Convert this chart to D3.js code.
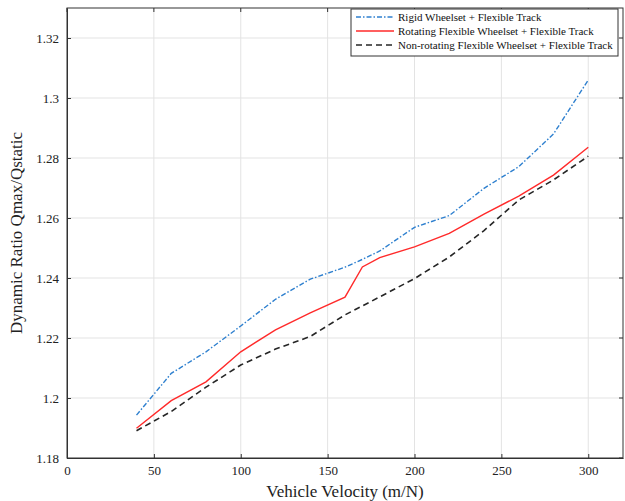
<!DOCTYPE html>
<html>
<head>
<meta charset="utf-8">
<script src="https://cdn.jsdelivr.net/npm/d3@7"></script>
<style>
  body { margin: 0; background: #fff; }
  svg { display: block; }
</style>
</head>
<body>
<div id="chart"></div>
<script>
// velocities sampled in the figure
const velocity = [40, 60, 80, 100, 120, 140, 160, 170, 180, 200, 220, 240, 260, 280, 300];

const rigidTrack = [1.1943, 1.2082, 1.2154, 1.2240, 1.2329, 1.2396, 1.2436, 1.2462, 1.2490, 1.2569, 1.2608, 1.2699, 1.2771, 1.2880, 1.3060];
const rotatingTrack = [1.1899, 1.1991, 1.2054, 1.2154, 1.2227, 1.2284, 1.2336, 1.2437, 1.2468, 1.2504, 1.2549, 1.2613, 1.2673, 1.2743, 1.2836];
const nonRotatingTrack = [1.1891, 1.1955, 1.2036, 1.2110, 1.2163, 1.2205, 1.2277, 1.2307, 1.2337, 1.2398, 1.2470, 1.2558, 1.2660, 1.2727, 1.2806];

const xTicks = [0, 50, 100, 150, 200, 250, 300];
const yTicks = [1.18, 1.2, 1.22, 1.24, 1.26, 1.28, 1.3, 1.32];

const seriesNames = [
  "Rigid Wheelset + Flexible Track",
  "Rotating Flexible Wheelset + Flexible Track",
  "Non-rotating Flexible Wheelset + Flexible Track"
];

const width = 625, height = 501;
const margin = { top: 8, right: 2, bottom: 43, left: 67 };
const fontFamily = "'Liberation Serif', 'Times New Roman', serif";

const series = [
  { name: seriesNames[0], values: rigidTrack, color: "#2f80cf", dash: "5,2,1.5,2", width: 1.4 },
  { name: seriesNames[1], values: rotatingTrack, color: "#ff2a2a", dash: null, width: 1.4 },
  { name: seriesNames[2], values: nonRotatingTrack, color: "#262626", dash: "6,4", width: 1.6 }
];

const svg = d3.select("#chart")
  .append("svg")
  .attr("width", width)
  .attr("height", height);

const x = d3.scaleLinear().domain([0, 320]).range([margin.left, width - margin.right]);
const y = d3.scaleLinear().domain([1.18, 1.33]).range([height - margin.bottom, margin.top]);

// grid
const grid = svg.append("g");
grid.selectAll(".gx")
  .data(xTicks.slice(1))
  .enter()
  .append("line")
  .attr("x1", d => x(d)).attr("x2", d => x(d))
  .attr("y1", y(1.18)).attr("y2", y(1.33))
  .attr("stroke", "#e3e3e3")
  .attr("stroke-width", 1);
grid.selectAll(".gy")
  .data(yTicks.slice(1))
  .enter()
  .append("line")
  .attr("x1", x(0)).attr("x2", x(320))
  .attr("y1", d => y(d)).attr("y2", d => y(d))
  .attr("stroke", "#e3e3e3")
  .attr("stroke-width", 1);

// axes with inward ticks
const xAxis = svg.append("g")
  .attr("transform", `translate(0,${y(1.18)})`)
  .call(d3.axisBottom(x).tickValues(xTicks).tickSizeInner(-4).tickSizeOuter(0).tickPadding(5).tickFormat(d3.format("d")));
const yAxis = svg.append("g")
  .attr("transform", `translate(${x(0)},0)`)
  .call(d3.axisLeft(y).tickValues(yTicks).tickSizeInner(-4).tickSizeOuter(0).tickPadding(8).tickFormat(d => String(+d.toFixed(2))));

[xAxis, yAxis].forEach(a => {
  a.select(".domain").attr("stroke", "#333");
  a.selectAll(".tick line").attr("stroke", "#333");
  a.selectAll(".tick text")
    .attr("fill", "#222")
    .style("font-family", fontFamily)
    .style("font-size", "13px");
});
xAxis.selectAll(".tick text").attr("dy", "0.9em");

// right / top ticks
svg.append("g").selectAll("line")
  .data(yTicks)
  .enter()
  .append("line")
  .attr("x1", x(320)).attr("x2", x(320) - 4)
  .attr("y1", d => y(d)).attr("y2", d => y(d))
  .attr("stroke", "#333");
svg.append("g").selectAll("line")
  .data(xTicks)
  .enter()
  .append("line")
  .attr("x1", d => x(d)).attr("x2", d => x(d))
  .attr("y1", y(1.33)).attr("y2", y(1.33) + 4)
  .attr("stroke", "#333");

// frame
svg.append("rect")
  .attr("x", x(0)).attr("y", y(1.33))
  .attr("width", x(320) - x(0))
  .attr("height", y(1.18) - y(1.33))
  .attr("fill", "none")
  .attr("stroke", "#333")
  .attr("stroke-width", 1);

// series lines
const line = d3.line()
  .x((d, i) => x(velocity[i]))
  .y(d => y(d));

series.forEach(s => {
  svg.append("path")
    .datum(s.values)
    .attr("d", line)
    .attr("fill", "none")
    .attr("stroke", s.color)
    .attr("stroke-width", s.width)
    .attr("stroke-dasharray", s.dash);
});

// legend
const legend = svg.append("g").attr("transform", "translate(351,9)");
legend.append("rect")
  .attr("width", 267)
  .attr("height", 47)
  .attr("fill", "#fff")
  .attr("stroke", "#333")
  .attr("stroke-width", 1);

series.forEach((s, i) => {
  const ly = 8 + i * 14;
  legend.append("line")
    .attr("x1", 5).attr("x2", 43)
    .attr("y1", ly).attr("y2", ly)
    .attr("stroke", s.color)
    .attr("stroke-width", s.width)
    .attr("stroke-dasharray", s.dash);
  legend.append("text")
    .attr("x", 47)
    .attr("y", ly)
    .attr("dy", "0.35em")
    .attr("fill", "#111")
    .style("font-family", fontFamily)
    .style("font-size", "11px")
    .text(s.name);
});

// axis titles
svg.append("text")
  .attr("x", (x(0) + x(320)) / 2)
  .attr("y", 497)
  .attr("text-anchor", "middle")
  .attr("fill", "#222")
  .style("font-family", fontFamily)
  .style("font-size", "17px")
  .text("Vehicle Velocity (m/N)");

svg.append("text")
  .attr("transform", `translate(22,${(y(1.18) + y(1.33)) / 2}) rotate(-90)`)
  .attr("text-anchor", "middle")
  .attr("fill", "#222")
  .style("font-family", fontFamily)
  .style("font-size", "17px")
  .text("Dynamic Ratio Qmax/Qstatic");
</script>
</body>
</html>
